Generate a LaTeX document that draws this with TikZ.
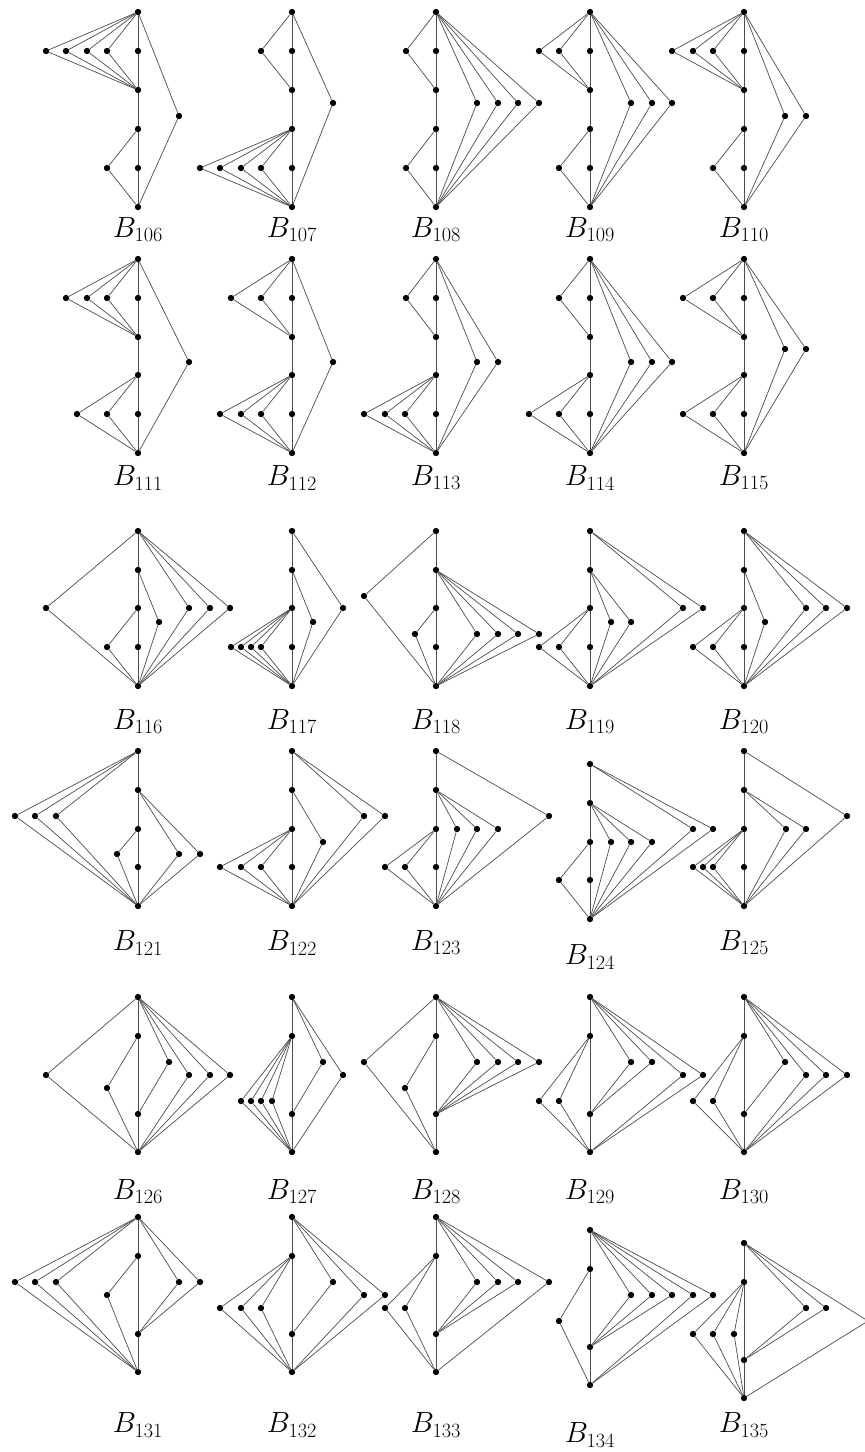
\documentclass[tikz,border=0pt]{standalone}
\usepackage{tikz}
% chain of dots on one vertical line
\newcommand{\spinechain}[3]{%
  \foreach \yy [count=\k] in {#3} {\node[dot] (#1s\k) at (#2,\yy) {};}
  \foreach \yy [count=\k, remember=\k as \j (initially 0)] in {#3} {\ifnum\k>1 \draw[edge] (#1s\j) -- (#1s\k);\fi}%
}
% row of dots, each joined to an upper and a lower node
\newcommand{\fanout}[5]{%
  \foreach \xx [count=\k] in {#5} {\node[dot] (#1\k) at (\xx,#4) {};
    \draw[edge] (#2) -- (#1\k) -- (#3);}%
}
\newcommand{\blab}[1]{$B_{\mbox{\LARGE #1}}$}
\begin{document}
\begin{tikzpicture}[
  x=0.03cm, y=-0.03cm,
  dot/.style={circle, fill=black, inner sep=0pt, minimum size=0.19cm},
  edge/.style={black!70, line width=0.6pt},
  lab/.style={font=\Huge, inner sep=0pt},
]
  \useasboundingbox (0,0) rectangle (864,1452);

  % Row 1: B106 -- B110
  \spinechain{n106}{138}{12,51,90,129,168,207}
  \fanout{n106a}{n106s1}{n106s3}{51}{46,66,87,107}
  \fanout{n106b}{n106s1}{n106s6}{116}{179}
  \fanout{n106c}{n106s4}{n106s6}{168}{107}
  \node[lab] (l106) at (138,230) {\blab{106}};

  \spinechain{n107}{292}{12,51,90,129,168,207}
  \fanout{n107a}{n107s1}{n107s3}{51}{261}
  \fanout{n107b}{n107s1}{n107s6}{103}{333}
  \fanout{n107c}{n107s4}{n107s6}{168}{200,220,241,261}
  \node[lab] (l107) at (292,230) {\blab{107}};

  \spinechain{n108}{436}{12,51,90,129,168,207}
  \fanout{n108a}{n108s1}{n108s3}{51}{406}
  \fanout{n108b}{n108s1}{n108s6}{103}{477,498,518,539}
  \fanout{n108c}{n108s4}{n108s6}{168}{406}
  \node[lab] (l108) at (436,230) {\blab{108}};

  \spinechain{n109}{590}{12,51,90,129,168,207}
  \fanout{n109a}{n109s1}{n109s3}{51}{539,559}
  \fanout{n109b}{n109s1}{n109s6}{103}{631,652,672}
  \fanout{n109c}{n109s4}{n109s6}{168}{559}
  \node[lab] (l109) at (590,230) {\blab{109}};

  \spinechain{n110}{744}{12,51,90,129,168,207}
  \fanout{n110a}{n110s1}{n110s3}{51}{672,693,713}
  \fanout{n110b}{n110s1}{n110s6}{116}{785,806}
  \fanout{n110c}{n110s4}{n110s6}{168}{713}
  \node[lab] (l110) at (744,230) {\blab{110}};

  % Row 2: B111 -- B115
  \spinechain{n111}{138}{259,298,337,375,414,453}
  \fanout{n111a}{n111s1}{n111s3}{298}{66,87,107}
  \fanout{n111b}{n111s1}{n111s6}{362}{189}
  \fanout{n111c}{n111s4}{n111s6}{414}{77,107}
  \node[lab] (l111) at (138,478) {\blab{111}};

  \spinechain{n112}{292}{259,298,337,375,414,453}
  \fanout{n112a}{n112s1}{n112s3}{298}{231,261}
  \fanout{n112b}{n112s1}{n112s6}{362}{333}
  \fanout{n112c}{n112s4}{n112s6}{414}{220,241,261}
  \node[lab] (l112) at (292,478) {\blab{112}};

  \spinechain{n113}{436}{259,298,337,375,414,453}
  \fanout{n113a}{n113s1}{n113s3}{298}{406}
  \fanout{n113b}{n113s1}{n113s6}{362}{477,498}
  \fanout{n113c}{n113s4}{n113s6}{414}{364,385,405}
  \node[lab] (l113) at (436,478) {\blab{113}};

  \spinechain{n114}{590}{259,298,337,375,414,453}
  \fanout{n114a}{n114s1}{n114s3}{298}{559}
  \fanout{n114b}{n114s1}{n114s6}{362}{631,652,672}
  \fanout{n114c}{n114s4}{n114s6}{414}{529,559}
  \node[lab] (l114) at (590,478) {\blab{114}};

  \spinechain{n115}{744}{259,298,337,375,414,453}
  \fanout{n115a}{n115s1}{n115s3}{298}{683,713}
  \fanout{n115b}{n115s1}{n115s6}{349}{785,806}
  \fanout{n115c}{n115s4}{n115s6}{414}{683,713}
  \node[lab] (l115) at (744,478) {\blab{115}};

  % Row 3: B116 -- B120
  \spinechain{n116}{138}{531,570,608,647,686}
  \fanout{n116a}{n116s1}{n116s5}{608}{46}
  \fanout{n116b}{n116s3}{n116s5}{647}{107}
  \fanout{n116c}{n116s2}{n116s5}{622}{159}
  \fanout{n116d}{n116s1}{n116s5}{608}{189,210,230}
  \node[lab] (l116) at (138,722) {\blab{116}};

  \spinechain{n117}{292}{531,570,608,647,686}
  \fanout{n117a}{n117s1}{n117s5}{608}{343}
  \fanout{n117b}{n117s2}{n117s5}{622}{313}
  \fanout{n117c}{n117s3}{n117s5}{647}{231,241,251,261}
  \node[lab] (l117) at (292,722) {\blab{117}};

  \spinechain{n118}{436}{531,570,608,647,686}
  \fanout{n118a}{n118s1}{n118s5}{596}{364}
  \fanout{n118b}{n118s3}{n118s5}{634}{415}
  \fanout{n118c}{n118s2}{n118s5}{634}{477,498,518,539}
  \node[lab] (l118) at (436,722) {\blab{118}};

  \spinechain{n119}{590}{531,570,608,647,686}
  \fanout{n119a}{n119s1}{n119s5}{608}{683,703}
  \fanout{n119b}{n119s2}{n119s5}{622}{611,631}
  \fanout{n119c}{n119s3}{n119s5}{647}{539,559}
  \node[lab] (l119) at (590,722) {\blab{119}};

  \spinechain{n120}{744}{531,570,608,647,686}
  \fanout{n120a}{n120s1}{n120s5}{608}{806,826,847}
  \fanout{n120b}{n120s2}{n120s5}{622}{765}
  \fanout{n120c}{n120s3}{n120s5}{647}{693,713}
  \node[lab] (l120) at (744,722) {\blab{120}};

  % Row 4: B121 -- B125
  \spinechain{n121}{138}{751,790,829,867,906}
  \fanout{n121a}{n121s1}{n121s5}{816}{15,35,56}
  \fanout{n121b}{n121s3}{n121s5}{854}{117}
  \fanout{n121c}{n121s2}{n121s5}{854}{179,200}
  \node[lab] (l121) at (138,943) {\blab{121}};

  \spinechain{n122}{292}{751,790,829,867,906}
  \fanout{n122a}{n122s1}{n122s5}{816}{364,385}
  \fanout{n122b}{n122s2}{n122s5}{842}{323}
  \fanout{n122c}{n122s3}{n122s5}{867}{220,241,261}
  \node[lab] (l122) at (292,943) {\blab{122}};

  \spinechain{n123}{436}{751,790,829,867,906}
  \fanout{n123a}{n123s1}{n123s5}{816}{549}
  \fanout{n123b}{n123s2}{n123s5}{829}{457,477,498}
  \fanout{n123c}{n123s3}{n123s5}{867}{385,405}
  \node[lab] (l123) at (436,943) {\blab{123}};

  \spinechain{n124}{590}{764,803,842,880,919}
  \fanout{n124a}{n124s1}{n124s5}{829}{693,713}
  \fanout{n124b}{n124s2}{n124s5}{842}{611,631,652}
  \fanout{n124c}{n124s3}{n124s5}{880}{559}
  \node[lab] (l124) at (590,957) {\blab{124}};

  \spinechain{n125}{744}{751,790,829,867,906}
  \fanout{n125a}{n125s1}{n125s5}{816}{847}
  \fanout{n125b}{n125s2}{n125s5}{829}{786,806}
  \fanout{n125c}{n125s3}{n125s5}{867}{693,703,713}
  \node[lab] (l125) at (744,943) {\blab{125}};

  % Row 5: B126 -- B130
  \spinechain{n126}{138}{997,1036,1114,1152}
  \fanout{n126a}{n126s1}{n126s4}{1075}{46}
  \fanout{n126b}{n126s2}{n126s4}{1088}{107}
  \fanout{n126c}{n126s1}{n126s3}{1062}{169}
  \fanout{n126d}{n126s1}{n126s4}{1075}{189,210,230}
  \node[lab] (l126) at (138,1192) {\blab{126}};

  \spinechain{n127}{292}{997,1036,1114,1152}
  \fanout{n127a}{n127s1}{n127s3}{1062}{323}
  \fanout{n127b}{n127s1}{n127s4}{1075}{343}
  \fanout{n127c}{n127s2}{n127s4}{1101}{241,251,261,272}
  \node[lab] (l127) at (292,1192) {\blab{127}};

  \spinechain{n128}{436}{997,1036,1114,1152}
  \fanout{n128a}{n128s1}{n128s4}{1062}{364}
  \fanout{n128b}{n128s2}{n128s4}{1088}{405}
  \fanout{n128c}{n128s1}{n128s3}{1062}{477,498,518,539}
  \node[lab] (l128) at (436,1192) {\blab{128}};

  \spinechain{n129}{590}{997,1036,1114,1152}
  \fanout{n129a}{n129s2}{n129s4}{1101}{539,559}
  \fanout{n129b}{n129s1}{n129s3}{1062}{631,652}
  \fanout{n129c}{n129s1}{n129s4}{1075}{683,703}
  \node[lab] (l129) at (590,1192) {\blab{129}};

  \spinechain{n130}{744}{997,1036,1114,1152}
  \fanout{n130a}{n130s2}{n130s4}{1101}{693,713}
  \fanout{n130b}{n130s1}{n130s3}{1062}{785}
  \fanout{n130c}{n130s1}{n130s4}{1075}{806,826,847}
  \node[lab] (l130) at (744,1192) {\blab{130}};

  % Row 6: B131 -- B135
  \spinechain{n131}{138}{1217,1256,1334,1372}
  \fanout{n131a}{n131s1}{n131s4}{1282}{15,35,56}
  \fanout{n131b}{n131s2}{n131s4}{1295}{107}
  \fanout{n131c}{n131s1}{n131s3}{1282}{179,200}
  \node[lab] (l131) at (138,1425) {\blab{131}};

  \spinechain{n132}{292}{1217,1256,1334,1372}
  \fanout{n132a}{n132s2}{n132s4}{1308}{220,241,261}
  \fanout{n132b}{n132s1}{n132s3}{1282}{333}
  \fanout{n132c}{n132s1}{n132s4}{1295}{364,385}
  \node[lab] (l132) at (292,1425) {\blab{132}};

  \spinechain{n133}{436}{1217,1256,1334,1372}
  \fanout{n133a}{n133s2}{n133s4}{1308}{385,405}
  \fanout{n133b}{n133s1}{n133s3}{1282}{477,498,518}
  \fanout{n133c}{n133s1}{n133s4}{1282}{549}
  \node[lab] (l133) at (436,1425) {\blab{133}};

  \spinechain{n134}{590}{1230,1269,1347,1385}
  \fanout{n134a}{n134s2}{n134s4}{1321}{559}
  \fanout{n134b}{n134s1}{n134s3}{1295}{631,652,672}
  \fanout{n134c}{n134s1}{n134s4}{1295}{693,713}
  \node[lab] (l134) at (590,1435) {\blab{134}};

  \spinechain{n135}{744}{1243,1282,1360,1398}
  \fanout{n135a}{n135s2}{n135s4}{1334}{693,713,734}
  \fanout{n135b}{n135s1}{n135s3}{1308}{806,826}
  \fanout{n135c}{n135s1}{n135s4}{1321}{868}
  \node[lab] (l135) at (744,1425) {\blab{135}};
\end{tikzpicture}
\end{document}
